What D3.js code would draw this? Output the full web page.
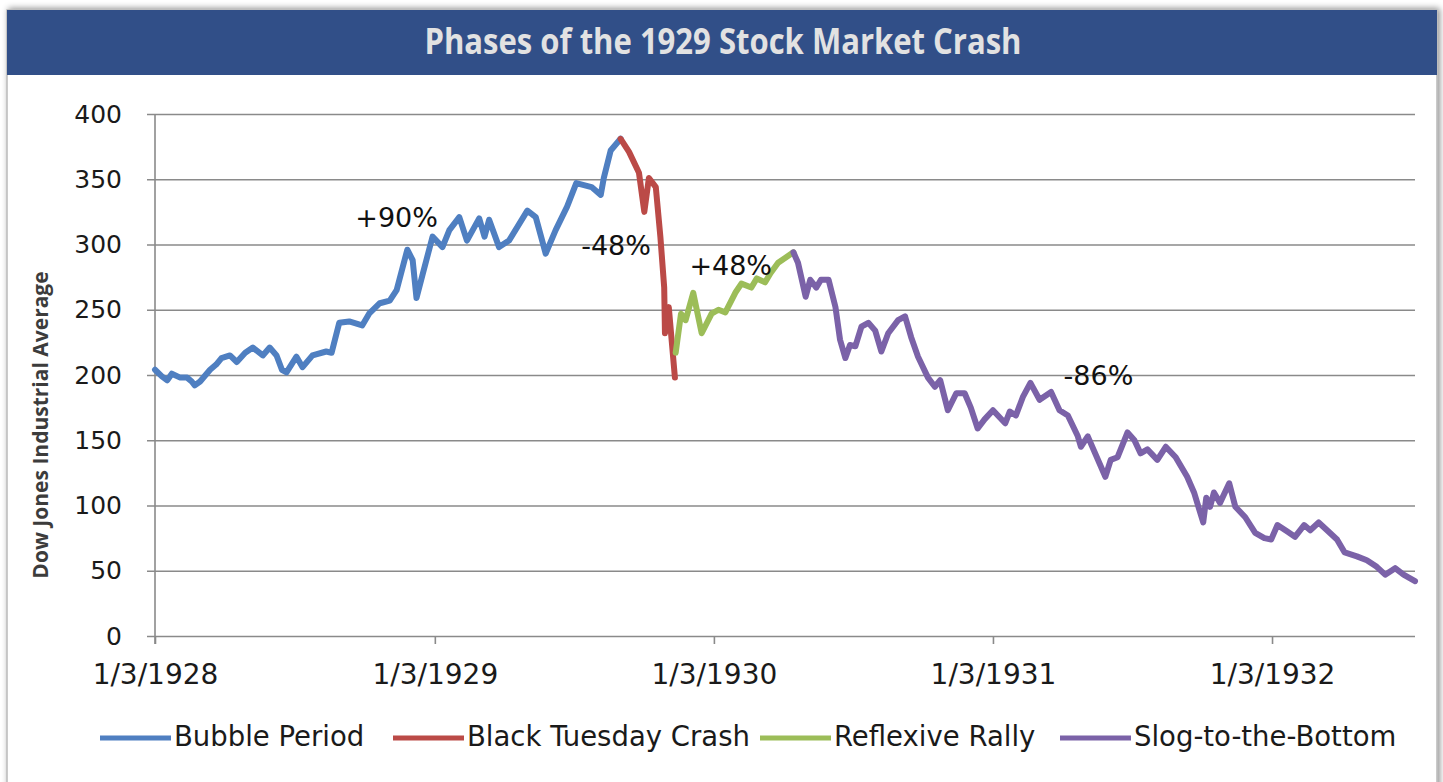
<!DOCTYPE html>
<html>
<head>
<meta charset="utf-8">
<script src="https://cdn.jsdelivr.net/npm/d3@7"></script>
<style>
  body { margin: 0; background: #fff; }
</style>
</head>
<body>
<div id="chart"></div>
<script>
// Dow Jones Industrial Average
const bubblePeriod = [
  ["1928-01-03", 204], ["1928-01-12", 199], ["1928-01-19", 196], ["1928-01-25", 201],
  ["1928-02-05", 198], ["1928-02-14", 198], ["1928-02-20", 195], ["1928-02-24", 192],
  ["1928-03-02", 195], ["1928-03-15", 204], ["1928-03-23", 208], ["1928-03-30", 213],
  ["1928-04-10", 215], ["1928-04-19", 210], ["1928-04-30", 217], ["1928-05-10", 221],
  ["1928-05-23", 215], ["1928-06-01", 221], ["1928-06-10", 215], ["1928-06-17", 204],
  ["1928-06-23", 202], ["1928-07-06", 214], ["1928-07-14", 206], ["1928-07-27", 215],
  ["1928-08-14", 218], ["1928-08-21", 217], ["1928-08-31", 240], ["1928-09-13", 241],
  ["1928-09-30", 238], ["1928-10-09", 247], ["1928-10-23", 255], ["1928-11-05", 257],
  ["1928-11-14", 265], ["1928-11-28", 296], ["1928-12-05", 288], ["1928-12-10", 259],
  ["1928-12-18", 277], ["1928-12-31", 306], ["1929-01-13", 298], ["1929-01-22", 311],
  ["1929-02-04", 321], ["1929-02-14", 303], ["1929-03-02", 320], ["1929-03-09", 306],
  ["1929-03-15", 319], ["1929-03-28", 298], ["1929-04-10", 303], ["1929-05-04", 326],
  ["1929-05-15", 321], ["1929-05-28", 293], ["1929-06-10", 311], ["1929-06-25", 329],
  ["1929-07-07", 347], ["1929-07-27", 344], ["1929-08-08", 338], ["1929-08-12", 351],
  ["1929-08-21", 372], ["1929-09-03", 381]
];
const blackTuesdayCrash = [
  ["1929-09-03", 381], ["1929-09-14", 371], ["1929-09-27", 355], ["1929-10-04", 325],
  ["1929-10-10", 351], ["1929-10-19", 344], ["1929-10-25", 306], ["1929-10-30", 267],
  ["1929-10-31", 232], ["1929-11-05", 252], ["1929-11-13", 198]
];
const reflexiveRally = [
  ["1929-11-14", 217], ["1929-11-21", 247], ["1929-11-27", 242], ["1929-12-07", 263],
  ["1929-12-18", 232], ["1929-12-31", 247], ["1930-01-09", 250], ["1930-01-18", 248],
  ["1930-01-31", 263], ["1930-02-08", 270], ["1930-02-21", 267], ["1930-02-28", 274],
  ["1930-03-11", 271], ["1930-03-18", 278], ["1930-03-28", 286], ["1930-04-17", 294]
];
const slogToTheBottom = [
  ["1930-04-17", 294], ["1930-04-23", 286], ["1930-05-03", 260], ["1930-05-09", 273],
  ["1930-05-17", 267], ["1930-05-23", 273], ["1930-06-02", 273], ["1930-06-11", 252],
  ["1930-06-17", 227], ["1930-06-24", 213], ["1930-06-30", 223], ["1930-07-07", 222],
  ["1930-07-15", 237], ["1930-07-24", 240], ["1930-08-02", 234], ["1930-08-10", 218],
  ["1930-08-19", 232], ["1930-09-01", 242], ["1930-09-10", 245], ["1930-09-18", 229],
  ["1930-09-27", 214], ["1930-10-10", 198], ["1930-10-19", 191], ["1930-10-26", 196],
  ["1930-11-05", 173], ["1930-11-16", 186], ["1930-11-27", 186], ["1930-12-05", 175],
  ["1930-12-14", 159], ["1930-12-23", 166], ["1931-01-03", 173], ["1931-01-19", 163],
  ["1931-01-25", 172], ["1931-02-02", 169], ["1931-02-11", 183], ["1931-02-21", 194],
  ["1931-03-05", 181], ["1931-03-20", 187], ["1931-03-31", 173], ["1931-04-11", 169],
  ["1931-04-24", 153], ["1931-04-28", 145], ["1931-05-07", 153], ["1931-05-30", 122],
  ["1931-06-06", 135], ["1931-06-15", 137], ["1931-06-28", 156], ["1931-07-07", 150],
  ["1931-07-15", 140], ["1931-07-24", 143], ["1931-08-06", 135], ["1931-08-17", 145],
  ["1931-08-30", 137], ["1931-09-14", 122], ["1931-09-23", 110], ["1931-10-05", 87],
  ["1931-10-09", 106], ["1931-10-14", 99], ["1931-10-19", 110], ["1931-10-27", 102],
  ["1931-11-08", 117], ["1931-11-16", 99], ["1931-11-29", 91], ["1931-12-12", 79],
  ["1931-12-24", 75], ["1932-01-02", 74], ["1932-01-10", 85], ["1932-01-23", 80],
  ["1932-02-02", 76], ["1932-02-14", 85], ["1932-02-22", 81], ["1932-03-04", 87],
  ["1932-03-15", 81], ["1932-03-28", 74], ["1932-04-07", 64], ["1932-04-23", 61],
  ["1932-05-06", 58], ["1932-05-19", 53], ["1932-05-30", 47], ["1932-06-12", 52],
  ["1932-06-23", 47], ["1932-07-08", 42]
];

const seriesNames  = ["Bubble Period", "Black Tuesday Crash", "Reflexive Rally", "Slog-to-the-Bottom"];
const seriesColors = ["#4f7fc1", "#bb4a47", "#9cbd58", "#7b62a8"];
const seriesData   = [bubblePeriod, blackTuesdayCrash, reflexiveRally, slogToTheBottom];

const yTicks = [0, 50, 100, 150, 200, 250, 300, 350, 400];
const xTicks = ["1928-01-03", "1929-01-03", "1930-01-03", "1931-01-03", "1932-01-03"];
const xTickLabels = ["1/3/1928", "1/3/1929", "1/3/1930", "1/3/1931", "1/3/1932"];
const xDomain = ["1928-01-03", "1932-07-08"];

const annotations = [
  {text: "+90%", date: "1928-11-14", value: 319},
  {text: "-48%", date: "1929-08-28", value: 298},
  {text: "+48%", date: "1930-01-25", value: 282},
  {text: "-86%", date: "1931-05-21", value: 198}
];

const parse = d3.timeParse("%Y-%m-%d");

function add_svg(wrapper)
{
  return d3.select(wrapper).append("svg")
    .attr("width", 1443)
    .attr("height", 782);
}

function draw_chart(wrapper)
{
  const svg = add_svg(wrapper);
  const margin = {left: 155, right: 1415, top: 114, bottom: 636};
  const font = "'DejaVu Sans', sans-serif";

  // frame with shadow
  const defs = svg.append("defs");
  const f = defs.append("filter").attr("id", "shadow")
    .attr("x", -0.02).attr("y", -0.03).attr("width", 1.04).attr("height", 1.06);
  f.append("feDropShadow")
    .attr("dx", 2).attr("dy", -1)
    .attr("stdDeviation", 3)
    .attr("flood-color", "#000")
    .attr("flood-opacity", 0.45);

  svg.append("rect")
    .attr("x", 7).attr("y", 10)
    .attr("width", 1430).attr("height", 800)
    .attr("fill", "#fff")
    .attr("stroke", "#b9b9b9")
    .attr("stroke-width", 1.5)
    .attr("filter", "url(#shadow)");

  svg.append("rect")
    .attr("x", 7).attr("y", 10)
    .attr("width", 1430).attr("height", 65)
    .attr("fill", "#314f88");

  svg.append("text")
    .attr("x", 723)
    .attr("y", 54)
    .attr("text-anchor", "middle")
    .attr("fill", "#e2e2e2")
    .attr("font-family", "'Open Sans', sans-serif")
    .attr("font-weight", "bold")
    .attr("font-size", 36)
    .attr("textLength", 597)
    .attr("lengthAdjust", "spacingAndGlyphs")
    .text("Phases of the 1929 Stock Market Crash");

  const x = d3.scaleTime()
    .domain(xDomain.map(parse))
    .range([margin.left, margin.right]);
  const y = d3.scaleLinear()
    .domain([0, 400])
    .range([margin.bottom, margin.top]);

  // horizontal grid + y axis
  const yAxis = d3.axisLeft(y)
    .tickValues(yTicks)
    .tickSize(margin.right - margin.left + 8);

  svg.append("g")
    .attr("transform", `translate(${margin.right}, 0)`)
    .call(yAxis)
    .call(g => g.select(".domain").remove())
    .call(g => g.selectAll(".tick line")
      .attr("stroke", "#8a8a8a")
      .attr("stroke-width", 1.6))
    .call(g => g.selectAll(".tick text")
      .attr("x", -(margin.right - margin.left) - 33)
      .attr("fill", "#1a1a1a")
      .attr("font-family", font)
      .attr("font-size", 25));

  // x axis
  const xAxis = d3.axisBottom(x)
    .tickValues(xTicks.map(parse))
    .tickFormat((d, i) => xTickLabels[i])
    .tickSize(8)
    .tickPadding(20);

  svg.append("g")
    .attr("transform", `translate(0, ${margin.bottom})`)
    .call(xAxis)
    .call(g => g.select(".domain").remove())
    .call(g => g.selectAll(".tick line")
      .attr("stroke", "#8a8a8a")
      .attr("stroke-width", 1.6))
    .call(g => g.selectAll(".tick text")
      .attr("fill", "#1a1a1a")
      .attr("font-family", font)
      .attr("font-size", 28));

  // vertical axis line
  svg.append("line")
    .attr("x1", margin.left).attr("x2", margin.left)
    .attr("y1", margin.top).attr("y2", margin.bottom + 8)
    .attr("stroke", "#8a8a8a")
    .attr("stroke-width", 1.6);

  svg.append("text")
    .attr("transform", "translate(48, 425) rotate(-90)")
    .attr("text-anchor", "middle")
    .attr("fill", "#3c3c3c")
    .attr("font-family", "'Open Sans', sans-serif")
    .attr("font-weight", "bold")
    .attr("font-size", 21)
    .text("Dow Jones Industrial Average");

  // lines
  const line = d3.line()
    .x(d => x(parse(d[0])))
    .y(d => y(d[1]));

  svg.append("g")
    .selectAll("path")
    .data(seriesData)
    .join("path")
      .attr("d", line)
      .attr("fill", "none")
      .attr("stroke", (d, i) => seriesColors[i])
      .attr("stroke-width", 6)
      .attr("stroke-linejoin", "round")
      .attr("stroke-linecap", "round");

  // percent labels
  svg.append("g")
    .selectAll("text")
    .data(annotations)
    .join("text")
      .attr("x", d => x(parse(d.date)))
      .attr("y", d => y(d.value))
      .attr("text-anchor", "middle")
      .attr("dominant-baseline", "middle")
      .attr("fill", "#111")
      .attr("font-family", font)
      .attr("font-size", 27)
      .text(d => d.text);

  // legend
  const legendX = [100, 393, 760, 1060];
  const legend = svg.append("g")
    .selectAll("g")
    .data(seriesNames)
    .join("g")
      .attr("transform", (d, i) => `translate(${legendX[i]}, 738)`);

  legend.append("line")
    .attr("x1", 0).attr("x2", 71)
    .attr("stroke", (d, i) => seriesColors[i])
    .attr("stroke-width", 5);

  legend.append("text")
    .attr("x", 74)
    .attr("dominant-baseline", "middle")
    .attr("fill", "#1a1a1a")
    .attr("font-family", font)
    .attr("font-size", 27.5)
    .text(d => d);
}

draw_chart("#chart");
</script>
</body>
</html>
